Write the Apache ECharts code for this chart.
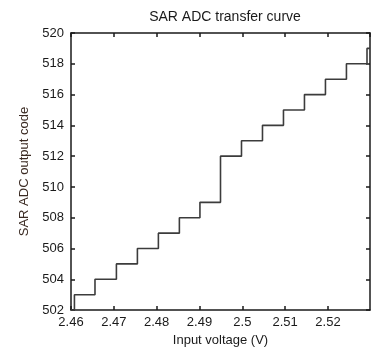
<!DOCTYPE html>
<html>
<head>
<meta charset="utf-8">
<script src="https://cdn.jsdelivr.net/npm/echarts@6/dist/echarts.min.js"></script>
<style>
  html, body { margin: 0; padding: 0; background: #fff; }
  #chart { width: 374px; height: 352px; }
</style>
</head>
<body>
<div id="chart"></div>
<script>
// step edges: voltage where the code changes, and the new code
var voltages = [2.46, 2.4608, 2.4656, 2.4706, 2.4755, 2.4804, 2.4853, 2.4901, 2.4949, 2.4998, 2.5047, 2.5096, 2.5145, 2.5194, 2.5243, 2.5291, 2.5298];
var codes = [502, 503, 504, 505, 506, 507, 508, 509, 512, 513, 514, 515, 516, 517, 518, 519, 519];
var xRange = [2.46, 2.5298];
var yRange = [502, 520];

var font = 'Liberation Sans, Arial, sans-serif';
var ink = '#1a1a1a';

var chart = echarts.init(document.getElementById('chart'));

var points = voltages.map(function (v, i) { return [v, codes[i]]; });

function xAxisOf(pos, labels) {
  return {
    type: 'value',
    position: pos,
    min: xRange[0],
    max: xRange[1],
    interval: 0.01,
    axisLine: { show: true, onZero: false, lineStyle: { color: ink, width: 1.5 } },
    axisTick: { show: true, inside: true, length: 4, lineStyle: { color: ink, width: 1.5 } },
    axisLabel: labels ? {
      show: true, margin: 6, fontSize: 13, color: ink, fontFamily: font,
      showMaxLabel: false,
      formatter: function (v) { return String(+v.toFixed(2)); }
    } : { show: false },
    splitLine: { show: false },
    name: labels ? 'Input voltage (V)' : '',
    nameLocation: 'middle',
    nameGap: 22,
    nameTextStyle: { fontSize: 13, color: ink, fontFamily: font }
  };
}

function yAxisOf(pos, labels) {
  return {
    type: 'value',
    position: pos,
    min: yRange[0],
    max: yRange[1],
    interval: 2,
    axisLine: { show: true, onZero: false, lineStyle: { color: ink, width: 1.5 } },
    axisTick: { show: true, inside: true, length: 4, lineStyle: { color: ink, width: 1.5 } },
    axisLabel: labels ? { show: true, margin: 7, fontSize: 13, color: ink, fontFamily: font } : { show: false },
    splitLine: { show: false },
    name: labels ? 'SAR ADC output code' : '',
    nameLocation: 'middle',
    nameGap: 37,
    nameTextStyle: { fontSize: 13, color: '#3a2a22', fontFamily: font }
  };
}

chart.setOption({
  animation: false,
  backgroundColor: '#fff',
  title: {
    text: 'SAR ADC transfer curve',
    left: 220,
    textAlign: 'center',
    top: 5,
    textStyle: { fontSize: 14, fontWeight: 'normal', color: ink, fontFamily: font }
  },
  grid: { left: 71, right: 4, top: 33, bottom: 37 },
  xAxis: [xAxisOf('bottom', true), xAxisOf('top', false)],
  yAxis: [yAxisOf('left', true), yAxisOf('right', false)],
  series: [{
    type: 'line',
    step: 'end',
    data: points,
    showSymbol: false,
    lineStyle: { color: '#3c3c3c', width: 1.6 }
  }]
});
</script>
</body>
</html>
